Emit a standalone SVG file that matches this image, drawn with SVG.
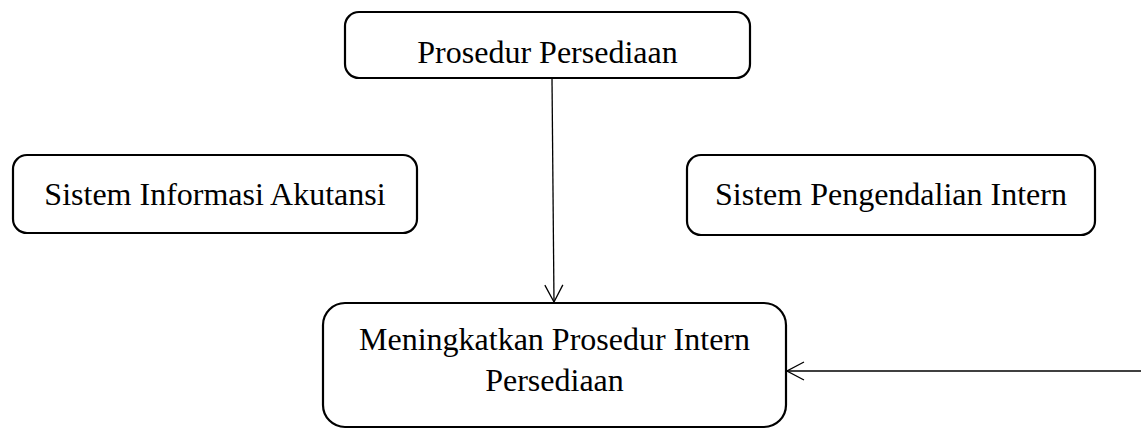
<svg xmlns="http://www.w3.org/2000/svg" width="1141" height="430" viewBox="0 0 1141 430">
  <style>
    .box { fill: #ffffff; stroke: #000000; stroke-width: 2.2; }
    .lbl { font-family: "Liberation Serif", "Times New Roman", serif; font-size: 32px; fill: #000000; text-anchor: middle; }
    .conn { fill: none; stroke: #000000; stroke-width: 1.3; }
  </style>
  <defs>
    <marker id="open" viewBox="0 0 20 20" refX="19" refY="10" markerWidth="20" markerHeight="20" markerUnits="userSpaceOnUse" orient="auto">
      <path d="M2,1 L19,10 L2,19" fill="none" stroke="#000000" stroke-width="1.3"/>
    </marker>
  </defs>
  <g id="node-prosedur-persediaan">
    <rect class="box" x="345" y="12" width="405" height="66" rx="14" ry="14"/>
    <text class="lbl" x="547.5" y="63">Prosedur Persediaan</text>
  </g>
  <g id="node-sistem-informasi-akutansi">
    <rect class="box" x="13" y="155" width="404" height="78" rx="14" ry="14"/>
    <text class="lbl" x="215" y="205">Sistem Informasi Akutansi</text>
  </g>
  <g id="node-sistem-pengendalian-intern">
    <rect class="box" x="687" y="155" width="408" height="80" rx="14" ry="14"/>
    <text class="lbl" x="891" y="205">Sistem Pengendalian Intern</text>
  </g>
  <g id="node-meningkatkan">
    <rect class="box" x="323" y="303" width="463" height="124" rx="22" ry="22"/>
    <text class="lbl" x="554.5" y="350">Meningkatkan Prosedur Intern</text>
    <text class="lbl" x="554.5" y="391">Persediaan</text>
  </g>
  <g id="connectors">
    <line class="conn" x1="552" y1="79" x2="554" y2="302" marker-end="url(#open)"/>
    <line class="conn" x1="1141" y1="371" x2="787" y2="371" marker-end="url(#open)"/>
  </g>
</svg>
